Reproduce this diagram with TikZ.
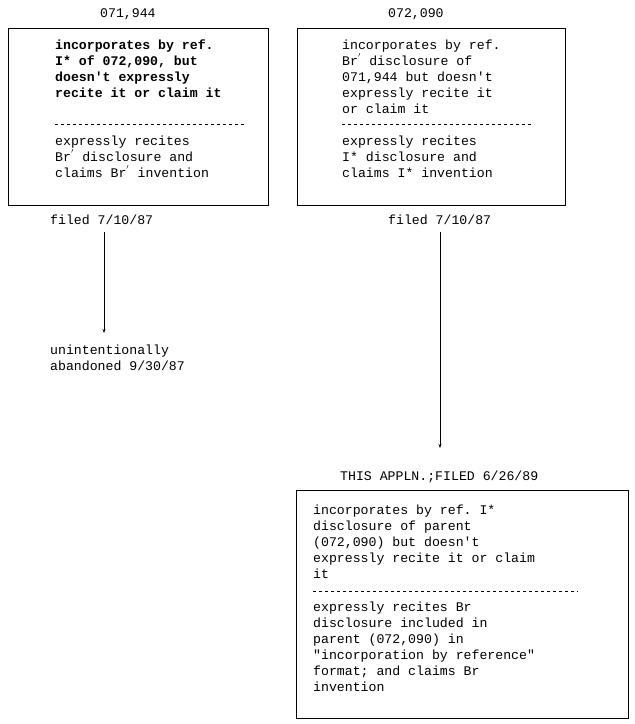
\documentclass[tikz,border=0pt]{standalone}
\usepackage{fontspec}
\setmonofont{Liberation Mono}
\usetikzlibrary{arrows.meta}
\begin{document}
\begin{tikzpicture}[x=1pt,y=-1pt,
  box/.style={draw,line width=0.8pt},
  txt/.style={anchor=west,font=\ttfamily\fontsize{13.2}{16}\selectfont,align=left,inner sep=0pt},
  sep/.style={dashed,line width=0.6pt},
  arr/.style={line width=0.6pt,-{Stealth[length=4pt,width=3pt]}}]
\useasboundingbox (0,0) rectangle (635,724);
\node[box,minimum width=260pt,minimum height=177pt,anchor=north west] (L) at (8,28) {};
\node[box,minimum width=268pt,minimum height=177pt,anchor=north west] (R) at (297,28) {};
\node[box,minimum width=332pt,minimum height=228pt,anchor=north west] (B) at (296,490) {};
\node[txt] (l0) at (100,14) {071,944};
\node[txt] (r0) at (388,14) {072,090};
\node[txt] (l1) at (55,69) {\textbf{incorporates by ref.}\\\textbf{I* of 072,090, but}\\\textbf{doesn't expressly}\\\textbf{recite it or claim it}};
\draw[sep] (55,124) -- (245,124);
\node[txt] (l2) at (55,157) {expressly recites\\Br$^{'}$ disclosure and\\claims Br$^{'}$ invention};
\node[txt] (r1) at (342,77) {incorporates by ref.\\Br$^{'}$ disclosure of\\071,944 but doesn't\\expressly recite it\\or claim it};
\draw[sep] (342,124) -- (532,124);
\node[txt] (r2) at (342,157) {expressly recites\\I* disclosure and\\claims I* invention};
\node[txt] (lf) at (50,220) {filed 7/10/87};
\node[txt] (rf) at (388,220) {filed 7/10/87};
\node[txt] (ab) at (50,358) {unintentionally\\abandoned 9/30/87};
\node[txt] (th) at (340,477) {THIS APPLN.;FILED 6/26/89};
\node[txt] (b1) at (313,542) {incorporates by ref. I*\\disclosure of parent\\(072,090) but doesn't\\expressly recite it or claim\\it};
\draw[sep] (313,591) -- (578,591);
\node[txt] (b2) at (313,647) {expressly recites Br\\disclosure included in\\parent (072,090) in\\"incorporation by reference"\\format; and claims Br\\invention};
\coordinate (la) at (104,232); \coordinate (lb) at (104,333);
\coordinate (ra) at (440,232); \coordinate (rb) at (440,448);
\draw[arr] (la) -- (lb);
\draw[arr] (ra) -- (rb);
\end{tikzpicture}
\end{document}
